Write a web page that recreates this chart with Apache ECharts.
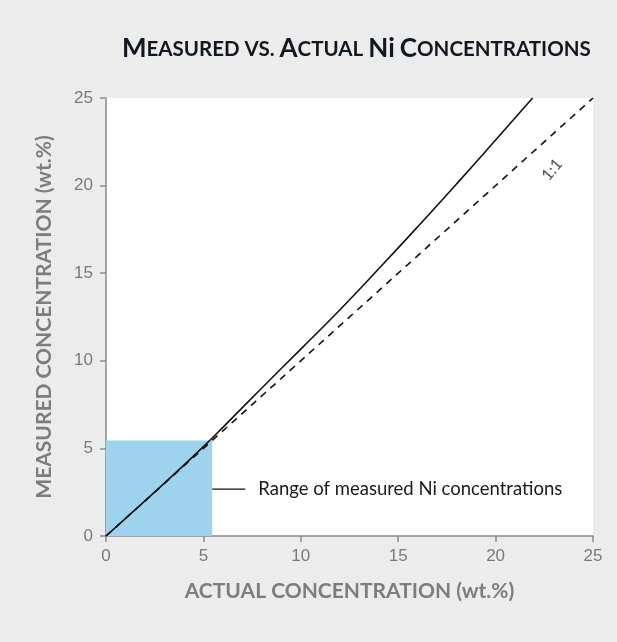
<!DOCTYPE html>
<html>
<head>
    <meta charset="utf-8">
    <title>Measured vs Actual Ni</title>
    <script src="https://cdn.jsdelivr.net/npm/echarts@6/dist/echarts.min.js"></script>
    <style>
    html, body { margin: 0; padding: 0; background: #ececec; }
    #main { width: 617px; height: 642px; }
    </style>
</head>
<body>
    <div id="main"></div>
    <script type="text/javascript">
        // measured vs actual (wt.%)
        var actual   = [0, 2, 4, 5, 6, 8, 10, 12, 14, 16, 18, 20, 21.9];
        var measured = [0, 2, 4.05, 5.1, 6.2, 8.45, 10.67, 12.9, 15.25, 17.65, 20.1, 22.6, 25];
        var oneToOne = [[0, 0], [25, 25]];
        var rangeBox = [5.45, 5.45];   // range of measured Ni concentrations (x, y)
        var rangeLeader = [[5.45, 2.68], [7.15, 2.68]];
        var ticks = [0, 5, 10, 15, 20, 25];

        var myChart = echarts.init(document.getElementById('main'));

        var curve = actual.map(function (x, i) { return [x, measured[i]]; });

        var axisCommon = {
            type: 'value',
            min: ticks[0],
            max: ticks[ticks.length - 1],
            interval: 5,
            axisLine: { show: true, lineStyle: { color: '#8a8a8a', width: 1.5 } },
            axisTick: { show: true, length: 6, lineStyle: { color: '#8a8a8a', width: 1.5 } },
            axisLabel: { color: '#7a7a7a', fontSize: 17, fontFamily: 'Liberation Sans' },
            splitLine: { show: false },
            nameLocation: 'middle',
            nameTextStyle: { color: '#7d7d7d', fontSize: 21, fontWeight: 'bold', fontFamily: 'Lato' }
        };

        var option = {
            backgroundColor: '#ececec',
            animation: false,
            title: {
                left: 117,
                top: 31,
                text: '{b|M}{s|EASURED VS. }{b|A}{s|CTUAL }{b|N}{l|i} {b|C}{s|ONCENTRATIONS}',
                textStyle: {
                    rich: {
                        b: { fontSize: 26, fontWeight: 'bold', color: '#111820', fontFamily: 'Lato' },
                        s: { fontSize: 20.5, fontWeight: 'bold', color: '#111820', fontFamily: 'Lato' },
                        l: { fontSize: 26, fontWeight: 'bold', color: '#111820', fontFamily: 'Lato' }
                    }
                }
            },
            grid: { left: 106, right: 24, top: 98, bottom: 106, backgroundColor: '#ffffff', show: true, borderWidth: 0 },
            xAxis: Object.assign({}, axisCommon, {
                name: 'ACTUAL CONCENTRATION (wt.%)',
                nameGap: 45,
                axisLabel: Object.assign({}, axisCommon.axisLabel, { margin: 12 })
            }),
            yAxis: Object.assign({}, axisCommon, {
                name: 'MEASURED CONCENTRATION (wt.%)',
                nameGap: 51,
                axisLabel: Object.assign({}, axisCommon.axisLabel, { margin: 13 })
            }),
            series: [
                {
                    name: 'range',
                    type: 'line',
                    data: [],
                    silent: true,
                    markArea: {
                        silent: true,
                        itemStyle: { color: '#9dd3ec' },
                        data: [[{ coord: [0, 0] }, { coord: rangeBox }]]
                    }
                },
                {
                    name: '1:1',
                    type: 'line',
                    data: oneToOne,
                    showSymbol: false,
                    lineStyle: { color: '#111', width: 1.6, type: [7, 6] },
                    z: 3
                },
                {
                    name: 'measured',
                    type: 'line',
                    data: curve,
                    smooth: 0.5,
                    showSymbol: false,
                    lineStyle: { color: '#111', width: 1.6 },
                    z: 4
                },
                {
                    name: 'leader',
                    type: 'line',
                    data: rangeLeader,
                    showSymbol: false,
                    lineStyle: { color: '#111', width: 1.2 },
                    endLabel: {
                        show: true,
                        formatter: 'Range of measured Ni concentrations',
                        distance: 13,
                        color: '#1a1a1a',
                        fontSize: 18.5,
                        fontFamily: 'Lato'
                    }
                },
                {
                    name: 'label11',
                    type: 'scatter',
                    data: [[22.9, 20.9]],
                    symbolSize: 0,
                    label: {
                        show: true,
                        position: 'inside',
                        formatter: '1:1',
                        rotate: 50,
                        color: '#222',
                        fontSize: 16,
                        fontFamily: 'Lato'
                    }
                }
            ]
        };

        myChart.setOption(option);
    </script>
</body>
</html>
